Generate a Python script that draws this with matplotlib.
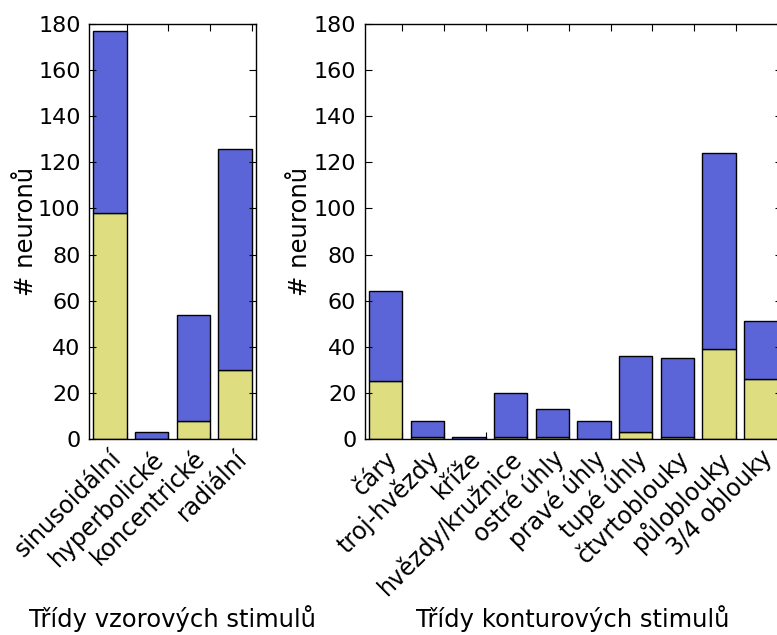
import matplotlib
matplotlib.use("Agg")
import matplotlib.pyplot as plt
import numpy as np

# Pattern stimulus classes
pattern_classes = ["sinusoidální", "hyperbolické", "koncentrické", "radiální"]
pattern_total = [177, 3, 54, 126]
pattern_part = [98, 0, 8, 30]

# Contour stimulus classes
contour_classes = ["čáry", "troj-hvězdy", "kříže", "hvězdy/kružnice", "ostré úhly",
                   "pravé úhly", "tupé úhly", "čtvrtoblouky", "půloblouky", "3/4 oblouky"]
contour_total = [64, 8, 1, 20, 13, 8, 36, 35, 124, 51]
contour_part = [25, 1, 0, 1, 1, 0, 3, 1, 39, 26]

BLUE = "#5b65d8"
YELLOW = "#dede80"
FS_YTICK = 16
FS_XTICK = 17
FS_LABEL = 17.5

plt.rcParams["font.family"] = ["DejaVu Sans"]

fig = plt.figure(figsize=(7.77, 6.35), dpi=100)
W, H = 777.0, 635.0
y_bot, y_top = 439, 24
bottom = (H - y_bot) / H
height = (y_bot - y_top) / H
ax1 = fig.add_axes([89 / W, bottom, (256 - 89) / W, height])
ax2 = fig.add_axes([364.7 / W, bottom, 417 / W, height])


def draw(ax, names, total, part, xlabel, ylabel_x):
    n = len(names)
    x = np.arange(n)
    part = np.asarray(part)
    rest = np.asarray(total) - part
    ax.bar(x, part, width=0.8, align="edge", color=YELLOW,
           edgecolor="black", linewidth=1)
    ax.bar(x, rest, width=0.8, bottom=part, align="edge", color=BLUE,
           edgecolor="black", linewidth=1)
    ax.set_xlim(-0.1, n - 0.1)
    ax.set_ylim(0, 180)
    ax.set_yticks(np.arange(0, 181, 20))
    ax.set_xticks(x + 0.8)
    ax.set_xticklabels(names, rotation=45, ha="right", fontsize=FS_XTICK)
    ax.tick_params(axis="y", labelsize=FS_YTICK, pad=6)
    ax.tick_params(axis="x", pad=5)
    ax.tick_params(direction="in", length=5, width=0.8, top=True, right=True)
    for s in ax.spines.values():
        s.set_linewidth(1.0)
    pos = ax.get_position()
    fig.text(ylabel_x / W, (pos.y0 + pos.y1) / 2, "# neuronů", rotation=90,
             ha="center", va="center", fontsize=FS_LABEL)
    fig.text((pos.x0 + pos.x1) / 2, 1 - 627 / H, xlabel,
             ha="center", va="baseline", fontsize=FS_LABEL)


draw(ax1, pattern_classes, pattern_total, pattern_part, "Třídy vzorových stimulů", 26)
draw(ax2, contour_classes, contour_total, contour_part, "Třídy konturových stimulů", 300)

fig.savefig("out.png", dpi=100)
